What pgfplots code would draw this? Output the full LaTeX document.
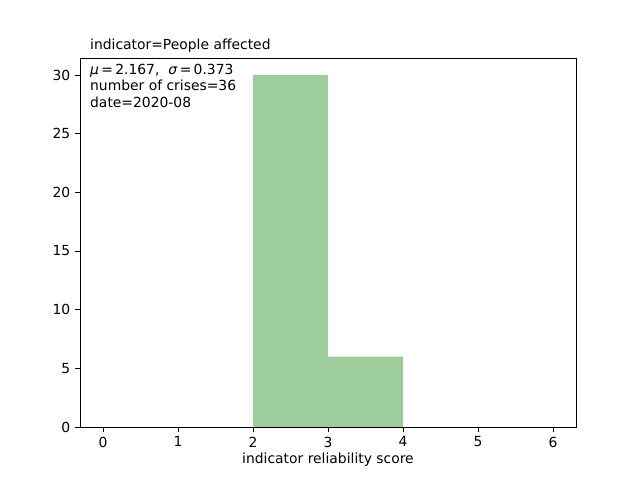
\documentclass[border=0pt]{standalone}
\usepackage{fontspec}
\setmainfont{DejaVu Sans}
\usepackage{pgfplots}
\pgfplotsset{compat=1.18}
\definecolor{barg}{RGB}{156,205,154}
\begin{document}
\begin{tikzpicture}[x=1pt,y=1pt]
\path[use as bounding box] (0,0) rectangle (460.8,345.6);
\begin{axis}[at={(74.16pt,38.16pt)},anchor=origin,scale only axis,
  width=357.12pt,height=265.68pt,
  xmin=-0.307,xmax=6.307,ymin=0,ymax=31.45,
  xtick={0,...,6},ytick={0,5,...,30},
  tick align=outside,tick style={black,thin},
  major tick length=3.5pt,
  xtick pos=bottom,ytick pos=left,
  ticklabel style={font=\fontsize{10}{12}\selectfont},
  /pgf/number format/assume math mode=true,
  xlabel={indicator reliability score},
  xlabel style={font=\fontsize{10}{12}\selectfont,yshift=3pt},
  clip=false]
\addplot[ybar interval,fill=barg,draw=none] coordinates {(2,30) (3,6) (4,6)};
\node[anchor=south west,font=\fontsize{10}{12}\selectfont,inner sep=0pt] at (rel axis cs:0.02,1.015) {indicator=People affected};
\node[anchor=north west,align=left,font=\fontsize{10}{12}\selectfont,inner sep=0pt] at (rel axis cs:0.02,0.985) {\textit{μ}\,=\,2.167,\ \ \textit{σ}\,=\,0.373\\number of crises=36\\date=2020-08};
\end{axis}
\end{tikzpicture}
\end{document}
